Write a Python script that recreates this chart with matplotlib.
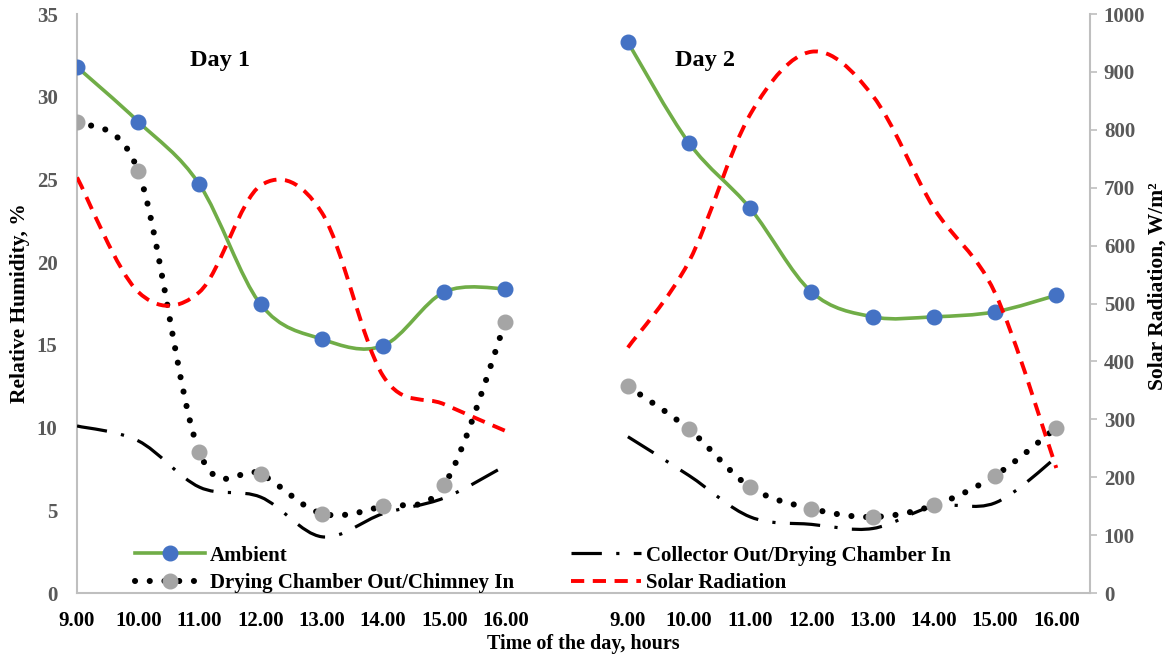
import numpy as np
import matplotlib
matplotlib.use("Agg")
import matplotlib.pyplot as plt
from matplotlib.path import Path
from matplotlib.patches import PathPatch
from matplotlib.lines import Line2D

# categories (two days on one axis, blank slot between them)
hours = ['9.00', '10.00', '11.00', '12.00', '13.00', '14.00', '15.00', '16.00']

# relative humidity, %
ambient_d1 = [31.8, 28.5, 24.7, 17.45, 15.35, 14.95, 18.2, 18.4]
ambient_d2 = [33.3, 27.2, 23.25, 18.2, 16.7, 16.7, 17.0, 18.0]
chamber_d1 = [28.5, 25.5, 8.5, 7.2, 4.8, 5.25, 6.55, 16.4]
chamber_d2 = [12.5, 9.9, 6.4, 5.1, 4.6, 5.3, 7.1, 10.0]
collector_d1 = [10.1, 9.2, 6.4, 5.8, 3.4, 4.8, 5.75, 7.7]
collector_d2 = [9.45, 7.1, 4.6, 4.15, 3.9, 5.25, 5.45, 8.2]

# solar radiation, W/m2
solar_d1 = [718, 520, 520, 704, 657, 375, 326, 280]
solar_d2 = [424, 573, 827, 935, 859, 665, 518, 216]

FONT = 'Liberation Serif'
plt.rcParams['font.family'] = FONT
plt.rcParams['font.weight'] = 'bold'
plt.rcParams['axes.labelweight'] = 'bold'

GREEN = '#70AD47'
BLUE = '#4472C4'
GREY = '#A5A5A5'
SPINE = '#BFBFBF'

x1 = np.arange(8)
x2 = np.arange(9, 17)


def smooth_path(xs, ys):
    # Excel-like smoothed line: cubic Bezier through the points
    pts = np.column_stack([xs, ys]).astype(float)
    p = np.vstack([pts[0], pts, pts[-1]])
    verts = [pts[0]]
    codes = [Path.MOVETO]
    for i in range(len(pts) - 1):
        p0, p1, p2, p3 = p[i], p[i + 1], p[i + 2], p[i + 3]
        verts += [p1 + (p2 - p0) / 6, p2 - (p3 - p1) / 6, p2]
        codes += [Path.CURVE4] * 3
    return Path(verts, codes)


def smooth(ax, xs, ys, **kw):
    ax.add_patch(PathPatch(smooth_path(xs, ys), fill=False, **kw))


fig = plt.figure(figsize=(11.71, 6.56), dpi=100)
ax = fig.add_axes([0.0658, 0.096, 0.865, 0.8825])
ax2 = ax.twinx()

dot_ls = (0, (0.01, 2.4))
dashdot_ls = (0, (9.5, 4.5, 1.0, 4.5))
dash_ls = (0, (3.4, 2.2))
DOT_LW = 4.4

for xs, ys in [(x1, collector_d1), (x2, collector_d2)]:
    smooth(ax, xs, ys, edgecolor='black', lw=2.3, linestyle=dashdot_ls,
           capstyle='butt', zorder=3)
for xs, ys in [(x1, chamber_d1), (x2, chamber_d2)]:
    smooth(ax, xs, ys, edgecolor='black', lw=DOT_LW, linestyle=dot_ls,
           capstyle='round', zorder=4)
    ax.plot(xs, ys, 'o', color=GREY, ms=10.5, zorder=5)
for xs, ys in [(x1, ambient_d1), (x2, ambient_d2)]:
    smooth(ax, xs, ys, edgecolor=GREEN, lw=2.6, zorder=6)
    ax.plot(xs, ys, 'o', color=BLUE, ms=10.5, zorder=7)
for xs, ys in [(x1, solar_d1), (x2, solar_d2)]:
    smooth(ax2, xs, ys, edgecolor='#FF0000', lw=2.8, linestyle=dash_ls,
           capstyle='butt', zorder=3)

ax.set_xlim(0, 16.55)
ax.set_ylim(0, 35)
ax2.set_ylim(0, 1000)
ax.set_yticks(range(0, 36, 5))
ax2.set_yticks(range(0, 1001, 100))
ax.set_xticks(range(17))
ax.set_xticklabels(hours + [''] + hours, fontweight='bold')
ax.set_yticklabels([str(v) for v in range(0, 36, 5)], fontweight='bold')
ax2.set_yticklabels([str(v) for v in range(0, 1001, 100)], fontweight='bold')

ax.tick_params(axis='x', length=0, labelsize=15, labelcolor='black', pad=13)
ax.tick_params(axis='y', length=0, labelsize=15, labelcolor='#595959', pad=14)
ax2.tick_params(axis='y', length=5, width=1.2, color=SPINE, labelsize=15,
                labelcolor='#595959', pad=5)

for a in (ax, ax2):
    a.spines['top'].set_visible(False)
    for s in ('left', 'bottom', 'right'):
        a.spines[s].set_color(SPINE)
        a.spines[s].set_linewidth(1.5)
ax.spines['right'].set_visible(False)
ax2.spines['left'].set_visible(False)
ax2.spines['bottom'].set_visible(False)

ax.set_ylabel('Relative Humidity, %', fontsize=15.5, fontweight='bold',
              va='center')
ax.yaxis.set_label_coords(-0.056, 0.5)
ax2.set_ylabel('Solar Radiation, W/m²', fontsize=15.5, fontweight='bold',
               va='center')
ax2.yaxis.set_label_coords(1.067, 0.53)
ax.set_xlabel('Time of the day, hours', fontsize=14.5, fontweight='bold', labelpad=2)

ax.text(2.34, 32.2, 'Day 1', fontsize=17.5, fontweight='bold', ha='center', va='center')
ax.text(10.26, 32.2, 'Day 2', fontsize=17.5, fontweight='bold', ha='center', va='center')

handles = [
    Line2D([], [], color=GREEN, lw=2.6, marker='o', ms=10.5,
           markerfacecolor=BLUE, markeredgecolor=BLUE),
    Line2D([], [], color='black', lw=DOT_LW, linestyle=dot_ls,
           dash_capstyle='round', marker='o', ms=10.5,
           markerfacecolor=GREY, markeredgecolor=GREY),
    Line2D([], [], color='black', lw=2.3, linestyle=dashdot_ls),
    Line2D([], [], color='#FF0000', lw=2.8, linestyle=dash_ls),
]
labels = ['Ambient', 'Drying Chamber Out/Chimney In',
          'Collector Out/Drying Chamber In', 'Solar Radiation']
leg = ax.legend(handles, labels, ncol=2, loc='lower left',
                bbox_to_anchor=(0.049, -0.014), frameon=False,
                prop={'size': 15, 'weight': 'bold', 'family': FONT},
                handlelength=3.35, handletextpad=0.25, columnspacing=2.75,
                labelspacing=0.35, borderaxespad=0, numpoints=1)
leg.set_zorder(10)

fig.savefig('out.png', dpi=100)
